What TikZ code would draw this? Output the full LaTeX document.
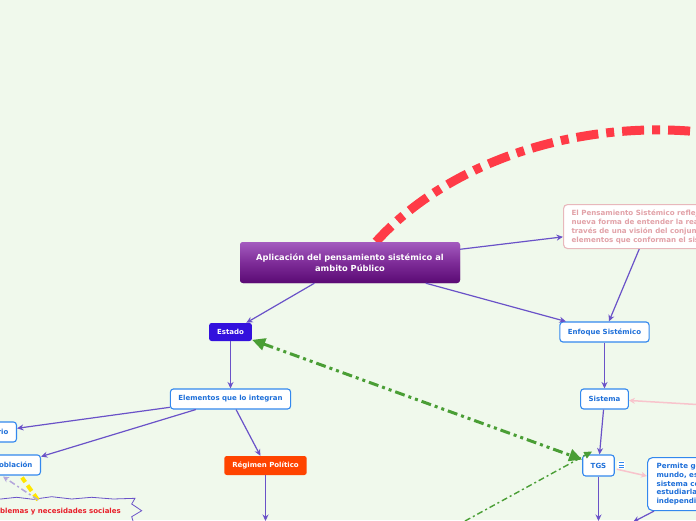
\documentclass[tikz,border=0pt]{standalone}
\usepackage{fontspec}
\setmainfont{DejaVu Sans}
\usetikzlibrary{arrows.meta}
\definecolor{bg}{HTML}{F0F9EC}
\definecolor{linkc}{HTML}{6A52C8}
\definecolor{bluet}{HTML}{1E6FD9}
\definecolor{blueb}{HTML}{3388EE}
\definecolor{estadoc}{HTML}{3311DD}
\definecolor{regimenc}{HTML}{FF4400}
\definecolor{pinkb}{HTML}{E8B8BC}
\definecolor{pinkt}{HTML}{E2A2A8}
\definecolor{pinkl}{HTML}{F8C4CC}
\definecolor{redc}{HTML}{FF3B47}
\definecolor{greenc}{HTML}{4A9E35}
\definecolor{redt}{HTML}{E8202A}
\definecolor{yel}{HTML}{FFE600}
\definecolor{lilac}{HTML}{B4A6DC}
\definecolor{mtop}{HTML}{A45CBF}
\definecolor{mbot}{HTML}{5A0A74}
\definecolor{mmid}{HTML}{7E2C98}
\begin{document}
\begin{tikzpicture}[x=1pt,y=-1pt,
  lbl/.style={font=\bfseries\fontsize{7}{8.8}\selectfont},
  bluebox/.style={lbl, draw=blueb, line width=1.1pt, fill=white, text=bluet,
    rounded corners=3pt, inner xsep=8pt, inner ysep=0pt, minimum height=20pt},
  solidbox/.style={lbl, text=white, rounded corners=2.5pt, inner xsep=8pt, inner ysep=0pt},
  mainbox/.style={font=\bfseries\fontsize{8.3}{11}\selectfont, text=white, align=center,
    minimum width=220pt, minimum height=41pt, rounded corners=3pt,
    top color=mtop, bottom color=mbot, middle color=mmid},
  link/.style={draw=linkc, line width=1.2pt, -{Stealth[length=6.5pt,width=6pt]}},
  pinklink/.style={draw=pinkl, line width=1.5pt, -{Stealth[length=6pt,width=6pt]}},
]
\useasboundingbox (0,0) rectangle (696,520);
\fill[bg] (0,0) rectangle (696,520);

% nodes
\node[mainbox] (main) at (350,262.5) {Aplicación del pensamiento sistémico al\\ambito Público};
\node[lbl, anchor=north west, draw=pinkb, line width=1.1pt, fill=white, text=pinkt,
  rounded corners=4pt, align=left, inner xsep=8pt, inner ysep=0pt, minimum height=44pt,
  font=\bfseries\fontsize{7.1}{9}\selectfont] (pens) at (563,204)
  {El Pensamiento Sistémico refleja una\\nueva forma de entender la realidad a\\través de una visión del conjunto de\\elementos que conforman el sistema};
\node[solidbox, fill=estadoc, minimum width=41pt, minimum height=18pt] (estado) at (230.5,332) {Estado};
\node[bluebox, minimum width=89pt] (enf) at (604.5,332) {Enfoque Sistémico};
\node[bluebox, minimum width=119pt] (elem) at (230.5,399) {Elementos que lo integran};
\node[bluebox, minimum width=47pt] (sis) at (604.5,399) {Sistema};
\node[bluebox, minimum width=31pt, minimum height=21pt] (tgs) at (598.5,465.5) {TGS};
\node[solidbox, fill=regimenc, minimum width=81pt, minimum height=19pt] (reg) at (265.5,465.5) {Régimen Político};
\node[bluebox, anchor=east] (terr) at (17,432) {Territorio};
\node[bluebox, anchor=east] (pobl) at (41,465) {Población};
\node[lbl, anchor=north west, draw=blueb, line width=1.1pt, fill=white, text=bluet,
  rounded corners=5pt, align=left, inner xsep=9pt, inner ysep=0pt, minimum height=53pt,
  font=\bfseries\fontsize{7.1}{8.8}\selectfont] (perm) at (647,457)
  {Permite generar una visión del\\mundo, es decir, ver el mundo como\\sistema con partes que se pueden\\estudiarlas de forma\\independiente};
\node[lbl, text=redt, anchor=east, inner sep=0pt] (prob) at (121,512) {Problemas y necesidades sociales};
\node[fill=white, rounded corners=1pt, minimum width=8pt, minimum height=8pt, inner sep=0pt] (icon) at (621,465) {};
\draw[blueb, line width=0.8pt] ([xshift=-2.5pt,yshift=2.2pt]icon.center) -- ++(5,0)
  ([xshift=-2.5pt]icon.center) -- ++(5,0)
  ([xshift=-2.5pt,yshift=-2.2pt]icon.center) -- ++(5,0);

% zigzag outline of the problems node
\draw[linkc, line width=0.8pt] (-2,499.3) -- (16.7,497.3) -- (33.3,499.3) -- (51.7,496.7)
  -- (71.7,499) -- (91.7,497.3) -- (113.3,499) -- (135,498.3) -- (131.7,504)
  -- (141.7,510.7) -- (131.7,516.7) -- (133.3,522);

% red decorative curve
\coordinate (redend) at (700,132);
\draw[redc, line width=9pt, dash pattern=on 22pt off 8pt on 8pt off 8pt]
  ([xshift=26pt]main.north) .. controls (450,160) and (580,120) .. (redend);
\node[mainbox] at (main.center) {Aplicación del pensamiento sistémico al\\ambito Público};

% connectors
\draw[link] (main) -- (estado);
\draw[link] (main) -- (pens);
\draw[link] (main) -- (enf);
\draw[link] (pens) -- (enf);
\draw[link] (estado) -- (elem);
\draw[link] (elem) -- (terr);
\draw[link] (elem) -- (pobl);
\draw[link] (elem) -- (reg);
\coordinate (regd) at (265.5,521);
\draw[link] (reg) -- (regd);
\draw[link] (enf) -- (sis);
\draw[link] (sis) -- (tgs);
\coordinate (tgsd) at (598.5,521);
\draw[link] (tgs) -- (tgsd);
\coordinate (permd) at (633,522);
\draw[link] ([xshift=7pt]perm.south west) -- (permd);

\coordinate (pr) at (697,404.5);
\draw[pinklink] (pr) -- (sis);
\draw[pinklink] (icon.south west) -- ([yshift=8pt]perm.west);

% green links
\draw[greenc, line width=3pt, dash pattern=on 10pt off 4pt on 3pt off 4pt on 3pt off 4pt,
  {Triangle[length=13pt,width=12pt]}-{Triangle[length=13pt,width=12pt]}] (estado) -- (tgs);
\coordinate (g2) at (465,521);
\draw[greenc, line width=1.4pt, dash pattern=on 6pt off 3pt on 2pt off 3pt,
  -{Triangle[length=8pt,width=7pt]}] (g2) -- ([xshift=10pt,yshift=3pt]tgs.north west);

% links from the problems node
\coordinate (py) at (38,500);
\coordinate (pyend) at (22,477.5);
\coordinate (pl) at (3,476.5);
\draw[yel, line width=4pt, dash pattern=on 7pt off 4pt] (py) -- (pyend);
\draw[lilac, line width=1.5pt, dash pattern=on 6pt off 3pt on 2pt off 3pt,
  -{Stealth[length=6pt,width=6pt]}] (py) -- (pl);
\end{tikzpicture}
\end{document}
